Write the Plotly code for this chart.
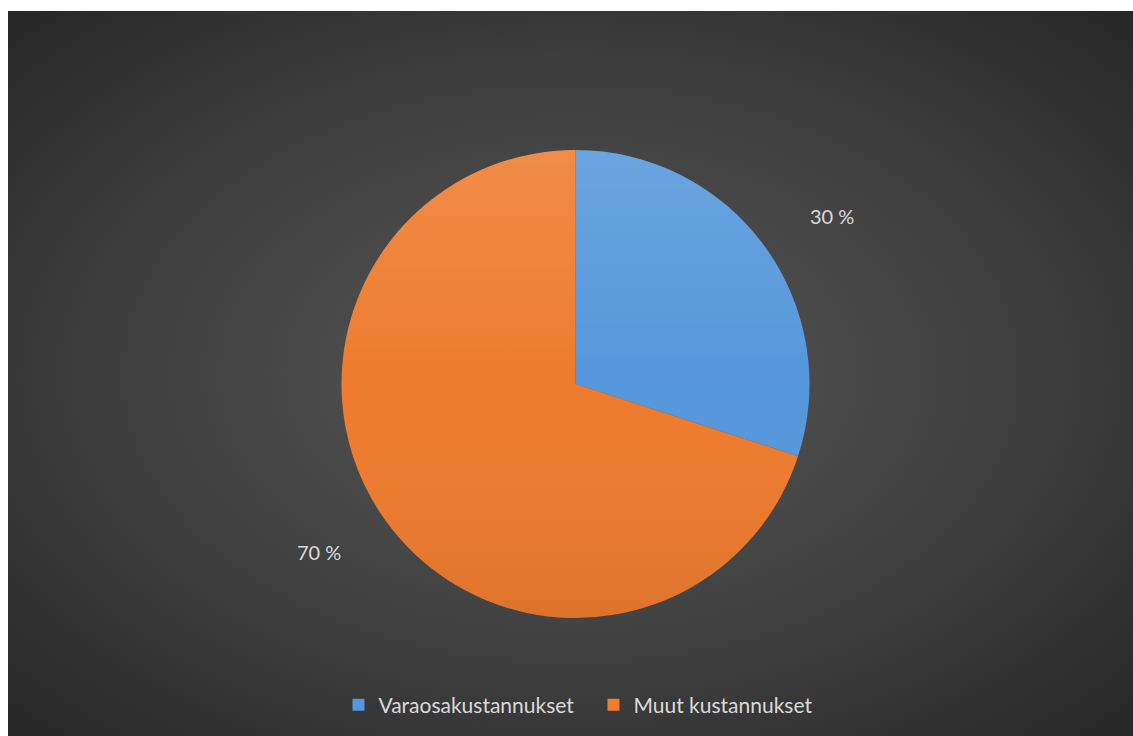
import base64
import math
import plotly.graph_objects as go

# Cost breakdown
categories = ["Varaosakustannukset", "Muut kustannukset"]
shares = [30, 70]
colors = ["#5597db", "#ee7b2e"]

W, H = 1133, 736
# Chart area (the dark panel) inside the white page
PANEL_L, PANEL_T = 8, 11
# Pie geometry in pixels
CX, CY, R = 575.5, 384.0, 234.0
FONT = "Lato, 'Open Sans', sans-serif"


def svg_uri(svg):
    return "data:image/svg+xml;base64," + base64.b64encode(svg.encode()).decode()


# Radial dark backdrop
backdrop = svg_uri(
    '<svg xmlns="http://www.w3.org/2000/svg" width="1125" height="725" '
    'preserveAspectRatio="none" viewBox="0 0 1125 725">'
    '<defs><radialGradient id="g" cx="50%" cy="50%" r="72%">'
    '<stop offset="0" stop-color="#575757"/>'
    '<stop offset="0.55" stop-color="#3f3f3f"/>'
    '<stop offset="1" stop-color="#262626"/>'
    '</radialGradient></defs>'
    '<rect x="0" y="0" width="1125" height="725" fill="url(#g)"/></svg>'
)

# Soft top-to-bottom sheen laid over the pie disc
sheen = svg_uri(
    '<svg xmlns="http://www.w3.org/2000/svg" width="468" height="468" viewBox="0 0 468 468">'
    '<defs><linearGradient id="s" x1="0" y1="0" x2="0" y2="1">'
    '<stop offset="0" stop-color="#ffffff" stop-opacity="0.13"/>'
    '<stop offset="0.5" stop-color="#ffffff" stop-opacity="0"/>'
    '<stop offset="1" stop-color="#000000" stop-opacity="0.07"/>'
    '</linearGradient></defs>'
    '<circle cx="234" cy="234" r="234" fill="url(#s)"/></svg>'
)

fig = go.Figure()
fig.add_trace(
    go.Pie(
        labels=categories,
        values=shares,
        sort=False,
        direction="clockwise",
        rotation=0,
        marker=dict(colors=colors, line=dict(width=0)),
        textinfo="none",
        hoverinfo="label+percent",
        domain=dict(
            x=[(CX - R) / W, (CX + R) / W],
            y=[1 - (CY + R) / H, 1 - (CY - R) / H],
        ),
    )
)

# Percentage labels placed outside each slice, just past its mid-angle
total = sum(shares)
annotations = []
cum = 0.0
label_r = R * 1.31
angle_shift = math.radians(2.7)
for v in shares:
    mid = (cum + v / 2) / total * 2 * math.pi + angle_shift
    cum += v
    px = CX + label_r * math.sin(mid)
    py = CY - label_r * math.cos(mid)
    annotations.append(
        dict(
            x=px / W,
            y=1 - py / H,
            xref="paper",
            yref="paper",
            text=f"{round(v / total * 100)} %",
            showarrow=False,
            font=dict(family=FONT, size=20, color="#d9d9d9"),
            xanchor="center",
            yanchor="middle",
        )
    )

fig.update_layout(
    width=W,
    height=H,
    margin=dict(l=0, r=0, t=0, b=0),
    paper_bgcolor="#ffffff",
    plot_bgcolor="rgba(0,0,0,0)",
    images=[
        dict(
            source=backdrop,
            xref="paper",
            yref="paper",
            x=PANEL_L / W,
            y=1 - PANEL_T / H,
            sizex=(W - PANEL_L) / W,
            sizey=(H - PANEL_T) / H,
            sizing="stretch",
            xanchor="left",
            yanchor="top",
            layer="below",
        ),
        dict(
            source=sheen,
            xref="paper",
            yref="paper",
            x=(CX - R) / W,
            y=1 - (CY - R) / H,
            sizex=2 * R / W,
            sizey=2 * R / H,
            sizing="stretch",
            xanchor="left",
            yanchor="top",
            layer="above",
        ),
    ],
    annotations=annotations,
    showlegend=True,
    legend=dict(
        orientation="h",
        x=0.5238,
        xanchor="center",
        y=1 - 705 / H,
        yanchor="middle",
        bgcolor="rgba(0,0,0,0)",
        font=dict(family=FONT, size=21, color="#d9d9d9"),
        itemwidth=30,
        entrywidth=210,
        entrywidthmode="pixels",
        traceorder="normal",
    ),
)

fig.write_html("out.html")
